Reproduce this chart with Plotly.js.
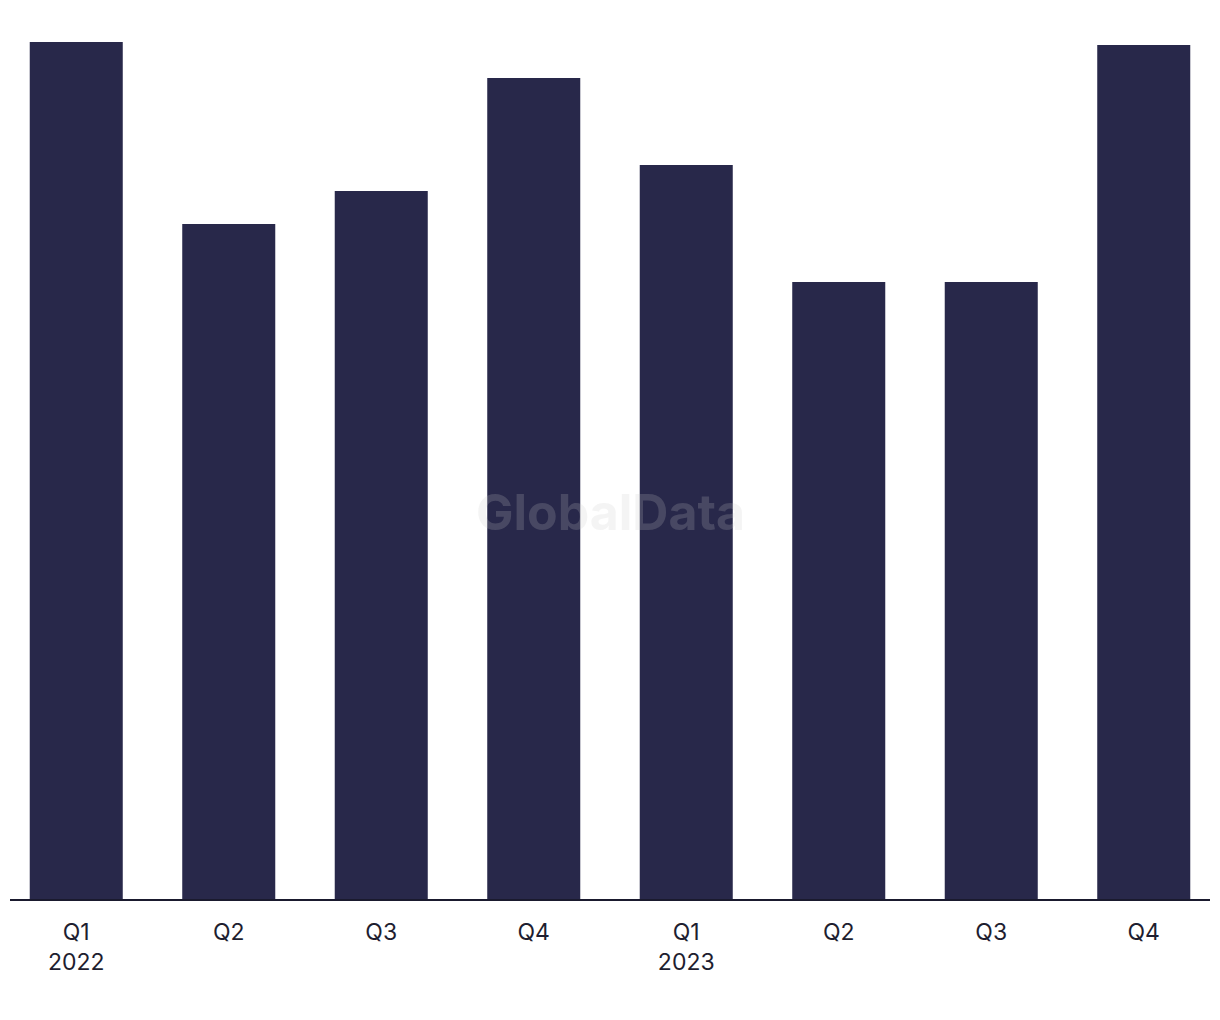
<!DOCTYPE html>
<html>
<head>
<meta charset="utf-8">
<script src="https://cdn.plot.ly/plotly-3.0.1.min.js"></script>
<style>html,body{margin:0;padding:0;background:#fff;}#chart{width:1220px;height:1020px;}</style>
</head>
<body>
<div id="chart"></div>
<script>
// Categories (quarters) and tick labels
const quarters = ["Q1 2022", "Q2 2022", "Q3 2022", "Q4 2022", "Q1 2023", "Q2 2023", "Q3 2023", "Q4 2023"];
const tickLabels = ["Q1<br>2022", "Q2", "Q3", "Q4", "Q1<br>2023", "Q2", "Q3", "Q4"];
// Series values (estimated, relative scale)
const values = [858, 676, 709, 822, 735, 618, 618, 855];

const trace = {
  type: "bar",
  x: quarters,
  y: values,
  marker: {color: "#28284a"},
  hoverinfo: "x+y"
};

const layout = {
  width: 1220,
  height: 1020,
  margin: {l: 0, r: 0, t: 0, b: 120, pad: 0},
  paper_bgcolor: "#ffffff",
  plot_bgcolor: "#ffffff",
  bargap: 0.39,
  showlegend: false,
  font: {family: "Inter, 'Liberation Sans', sans-serif", color: "#1e1e30", size: 23},
  xaxis: {
    type: "category",
    tickmode: "array",
    tickvals: quarters,
    ticktext: tickLabels,
    range: [-0.5, 7.5],
    showline: false,
    showgrid: false,
    zeroline: false,
    ticks: "",
    ticklabelstandoff: 16,
    tickfont: {size: 23, color: "#1e1e30"}
  },
  yaxis: {
    range: [0, 900],
    visible: false,
    showgrid: false,
    zeroline: false
  },
  shapes: [{
    type: "line", xref: "paper", yref: "paper",
    x0: 10 / 1220, x1: 1210 / 1220, y0: 0, y1: 0,
    line: {color: "#1a1a2e", width: 2}
  }],
  annotations: [{
    text: "<b>GlobalData</b>",
    xref: "paper", yref: "paper",
    x: 0.5, y: 1 - 512 / 900,
    showarrow: false,
    font: {family: "Inter, 'Liberation Sans', sans-serif", size: 50, color: "rgba(200,200,200,0.2)"}
  }]
};

Plotly.newPlot("chart", [trace], layout, {displayModeBar: false, staticPlot: true});
</script>
</body>
</html>
